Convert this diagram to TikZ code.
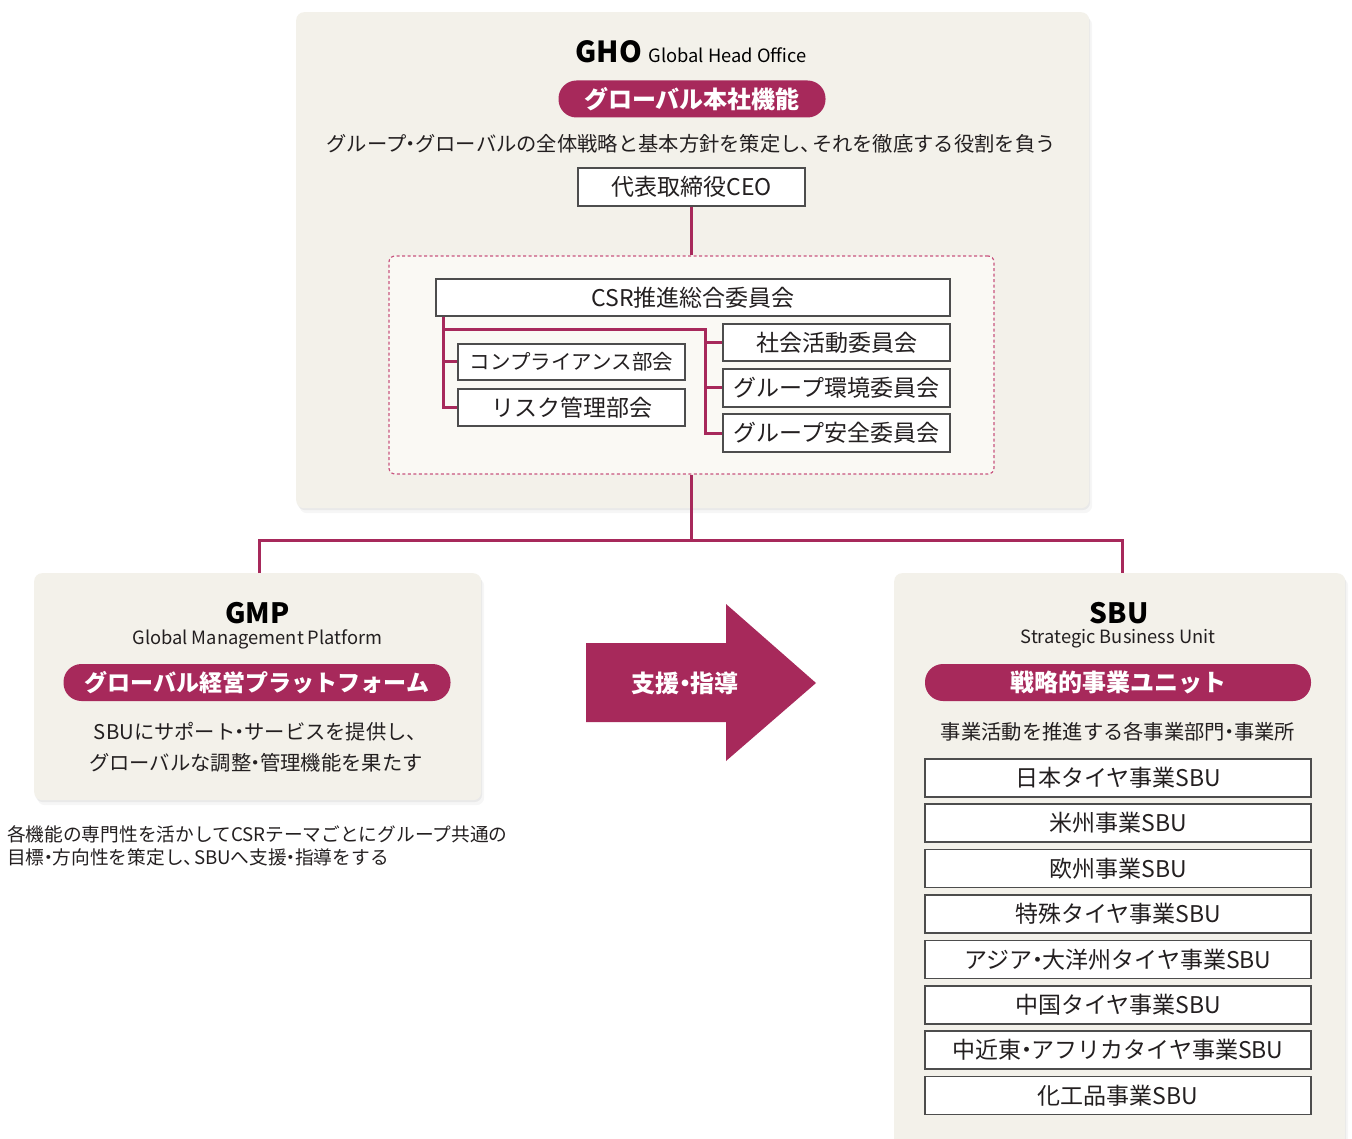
\documentclass[tikz,border=0pt]{standalone}
\usepackage{fontspec}
\setmainfont{Noto Sans CJK JP}
\usetikzlibrary{shadows,calc}
\definecolor{mag}{HTML}{A7295B}
\definecolor{panelbg}{HTML}{F3F1EA}
\definecolor{innerbg}{HTML}{FAF9F4}
\definecolor{dashc}{HTML}{C8557F}
\definecolor{txt}{HTML}{231F20}
\definecolor{boxline}{HTML}{4D4D4D}
\newcommand\fs[1]{\fontsize{#1}{#1}\selectfont}
\newcommand\nkd{{\kern-0.28em・\kern-0.28em}}
\newcommand\nkt{{、\kern-0.45em}}
\tikzset{
 panel/.style={anchor=north west, fill=panelbg, rounded corners=8pt, inner sep=0pt,
   drop shadow={opacity=0.07, shadow xshift=3pt, shadow yshift=-5pt},
   drop shadow={opacity=0.10, shadow xshift=1pt, shadow yshift=-2pt}},
 pill/.style={fill=mag, rounded corners=18pt, text=white, font=\fs{24}\bfseries, inner sep=0pt, minimum height=37pt},
 orgbox/.style={draw=boxline, line width=1.1pt, fill=white, inner sep=0pt, minimum height=38pt, font=\fs{23}, text=txt},
 conn/.style={draw=mag, line width=3pt},
 desc/.style={font=\fs{20.3}, text=txt, inner sep=0pt},
 ttl/.style={font=\fs{28}\bfseries, text=black, inner sep=0pt},
 subttl/.style={font=\fs{18.3}, text=txt, inner sep=0pt},
}
\begin{document}
\begin{tikzpicture}[x=1pt,y=-1pt]
\fill[white] (0,0) rectangle (1352,1139);
\useasboundingbox (0,0) rectangle (1352,1139);

% ---------- GHO ----------
\node[panel, minimum width=793pt, minimum height=496pt] (gho) at (296,12) {};
\node[inner sep=0pt, text=black] (ghotitle) at (691,52) {\fs{29}\bfseries GHO\ \fs{18.3}\mdseries Global Head Office};
\node[pill, minimum width=267pt] (ghopill) at (692,99) {グローバル本社機能};
\node[desc] (ghodesc) at (691,144) {グループ\nkd グローバルの全体戦略と基本方針を策定し\nkt それを徹底する役割を負う};
\node[orgbox, minimum width=227pt] (ceo) at (691.5,187) {代表取締役CEO};

\node[draw=dashc, fill=innerbg, line width=1.2pt, dash pattern=on 3pt off 2.5pt, rounded corners=6pt,
      minimum width=605pt, minimum height=218pt, inner sep=0pt] (grp) at (691.5,365) {};
\node[orgbox, minimum width=514pt, minimum height=37pt] (csr) at (693,297.5) {CSR推進総合委員会};
\node[orgbox, minimum width=227pt, minimum height=36pt, font=\fs{20.5}] (comp) at (571.5,362) {コンプライアンス部会};
\node[orgbox, minimum width=227pt, minimum height=37pt] (risk) at (571.5,407.5) {リスク管理部会};
\node[orgbox, minimum width=227pt, minimum height=37pt] (social) at (836.5,342.5) {社会活動委員会};
\node[orgbox, minimum width=227pt] (env) at (836.5,388) {グループ環境委員会};
\node[orgbox, minimum width=227pt] (safe) at (836.5,433) {グループ安全委員会};

\draw[conn] (ceo.south) -- (ceo.south |- grp.north);
\coordinate (lt) at ([xshift=8pt]csr.south west);
\coordinate (rt) at (705,330);
\draw[conn] (lt) |- (risk.west);
\draw[conn] (lt |- comp.west) -- (comp.west);
\draw[conn] (lt |- rt) -- (rt) |- (safe.west);
\draw[conn] (rt |- social.west) -- (social.west);
\draw[conn] (rt |- env.west) -- (env.west);

% ---------- GMP ----------
\node[panel, minimum width=447pt, minimum height=227pt] (gmp) at (34,573) {};
\node[ttl] (gmptitle) at (257.5,613) {GMP};
\node[subttl] (gmpsub) at (257.5,639) {Global Management Platform};
\node[pill, minimum width=387pt, font=\fs{23}\bfseries] (gmppill) at (257,682.5) {グローバル経営プラットフォーム};
\node[desc] (gmpdesc1) at (256,732) {SBUにサポート\nkd サービスを提供し\nkt};
\node[desc] (gmpdesc2) at (256,763) {グローバルな調整\nkd 管理機能を果たす};
\node[inner sep=0pt, anchor=west, font=\fs{18.7}, text=txt] (note1) at (7,834) {各機能の専門性を活かしてCSRテーマごとにグループ共通の};
\node[inner sep=0pt, anchor=west, font=\fs{18.7}, text=txt] (note2) at (7,857) {目標\nkd 方向性を策定し\nkt SBUへ支援\nkd 指導をする};

% ---------- arrow ----------
\fill[mag] (586,643) -- (726,643) -- (726,604) -- (816,683) -- (726,761) -- (726,722) -- (586,722) -- cycle;
\node[inner sep=0pt, text=white, font=\fs{24}\bfseries] (support) at (685,683) {支援\nkd 指導};

% ---------- SBU ----------
\node[panel, minimum width=451pt, minimum height=600pt] (sbu) at (894,573) {};
\node[ttl] (sbutitle) at (1119,613) {SBU};
\node[subttl] (sbusub) at (1118,639) {Strategic Business Unit};
\node[pill, minimum width=386pt] (sbupill) at (1118,682.5) {戦略的事業ユニット};
\node[desc] (sbudesc) at (1118,732) {事業活動を推進する各事業部門\nkd 事業所};
\node[orgbox, minimum width=386pt] (s1) at (1118,778) {日本タイヤ事業SBU};
\node[orgbox, minimum width=386pt] (s2) at (1118,823) {米州事業SBU};
\node[orgbox, minimum width=386pt] (s3) at (1118,868.5) {欧州事業SBU};
\node[orgbox, minimum width=386pt] (s4) at (1118,914) {特殊タイヤ事業SBU};
\node[orgbox, minimum width=386pt] (s5) at (1118,959.5) {アジア\nkd 大洋州タイヤ事業SBU};
\node[orgbox, minimum width=386pt] (s6) at (1118,1005) {中国タイヤ事業SBU};
\node[orgbox, minimum width=386pt] (s7) at (1118,1050) {中近東\nkd アフリカタイヤ事業SBU};
\node[orgbox, minimum width=386pt] (s8) at (1118,1095.5) {化工品事業SBU};

% ---------- bus ----------
\coordinate (bus) at (691.5,540);
\draw[conn] (grp.south) -- (bus);
\draw[conn] ([xshift=1.5pt]gmp.north) |- (bus) -| ([xshift=2.5pt]sbu.north);
\end{tikzpicture}
\end{document}
